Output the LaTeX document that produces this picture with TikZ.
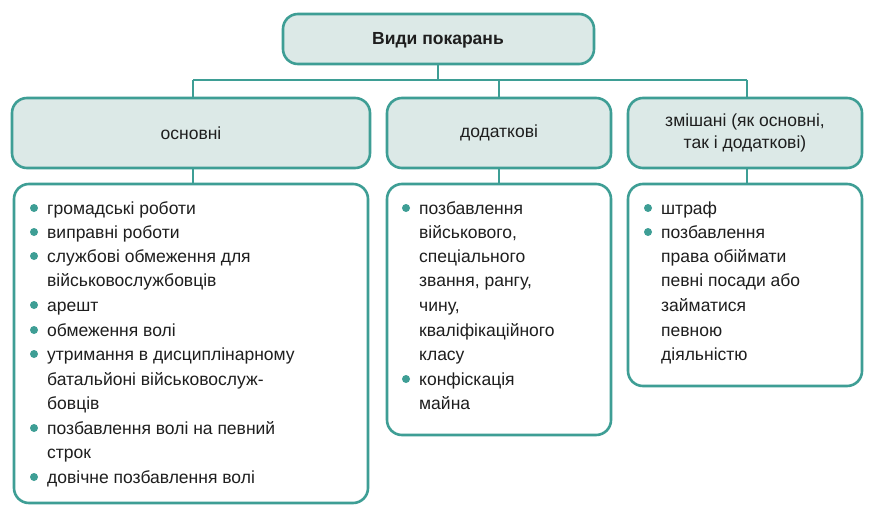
\documentclass[tikz,border=0pt]{standalone}
\usepackage{fontspec}
\setmainfont{Liberation Sans}
\definecolor{tealb}{HTML}{3E9E95}
\definecolor{tealf}{HTML}{DCE9E7}
\definecolor{txt}{HTML}{1E1E1E}
\newcommand{\bl}[3]{\node[ln] at (#1+13,#2) {#3}; \node[dot] at (#1,#2-6) {};}
\newcommand{\pl}[3]{\node[ln] at (#1+13,#2) {#3};}
\begin{document}
\begin{tikzpicture}[x=1pt,y=-1pt,
  hdr/.style={draw=tealb,line width=2.6pt,fill=tealf,rounded corners=15pt},
  cnt/.style={draw=tealb,line width=2.6pt,fill=white,rounded corners=15pt},
  conn/.style={draw=tealb,line width=2.2pt},
  ln/.style={anchor=base west,inner sep=0pt,font=\fontsize{17.5}{20}\selectfont,text=txt},
  ht/.style={font=\fontsize{17.5}{20}\selectfont,text=txt,align=center},
  dot/.style={circle,fill=tealb,inner sep=0pt,minimum size=8pt}]
\useasboundingbox (0,0) rectangle (874,516);
\fill[white] (0,0) rectangle (874,516);
% connectors
\coordinate (j) at (438,80);
\coordinate (l) at (193,80);
\coordinate (r) at (747,80);
\draw[conn] (438,64) -- (j);
\draw[conn] (l) -- (r);
\draw[conn] (l) -- (193,98);
\draw[conn] (499,80) -- (499,98);
\draw[conn] (r) -- (747,98);
\draw[conn] (193,168) -- (193,184);
\draw[conn] (499,168) -- (499,184);
\draw[conn] (747,168) -- (747,184);
% boxes
\draw[hdr] (283,14) rectangle (594,64);
\node[ht,font=\fontsize{17.5}{20}\selectfont\bfseries] (top) at (438,40) {Види покарань};
\draw[hdr] (12,98) rectangle (370,168);
\node[ht] (h1) at (191,133) {основні};
\draw[hdr] (387,98) rectangle (611,168);
\node[ht] (h2) at (499,133) {додаткові};
\draw[hdr] (628,98) rectangle (862,168);
\node[ht] (h3) at (745,133) {змішані (як основні,\\[2pt]так і додаткові)};
\draw[cnt] (14,184) rectangle (368,503);
\draw[cnt] (387,184) rectangle (611,435);
\draw[cnt] (628,184) rectangle (862,386);
% box1
\bl{34}{214}{громадські роботи}
\bl{34}{238}{виправні роботи}
\bl{34}{262}{службові обмеження для}
\pl{34}{286}{військовослужбовців}
\bl{34}{311}{арешт}
\bl{34}{336}{обмеження волі}
\bl{34}{360}{утримання в дисциплінарному}
\pl{34}{385}{батальйоні військовослуж-}
\pl{34}{409}{бовців}
\bl{34}{434}{позбавлення волі на певний}
\pl{34}{458}{строк}
\bl{34}{483}{довічне позбавлення волі}
% box2
\bl{406}{214}{позбавлення}
\pl{406}{238}{військового,}
\pl{406}{262}{спеціального}
\pl{406}{286}{звання, рангу,}
\pl{406}{311}{чину,}
\pl{406}{336}{кваліфікаційного}
\pl{406}{360}{класу}
\bl{406}{385}{конфіскація}
\pl{406}{409}{майна}
% box3
\bl{648}{214}{штраф}
\bl{648}{238}{позбавлення}
\pl{648}{262}{права обіймати}
\pl{648}{286}{певні посади або}
\pl{648}{311}{займатися}
\pl{648}{336}{певною}
\pl{648}{360}{діяльністю}
\end{tikzpicture}
\end{document}
